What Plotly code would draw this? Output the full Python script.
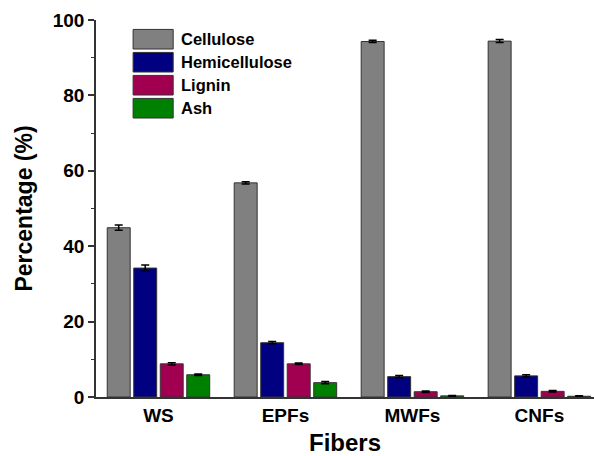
import plotly.graph_objects as go

categories = ["WS", "EPFs", "MWFs", "CNFs"]
series_names = ["Cellulose", "Hemicellulose", "Lignin", "Ash"]
cellulose = [44.9, 56.8, 94.3, 94.4]
hemicellulose = [34.2, 14.4, 5.4, 5.6]
lignin = [8.8, 8.8, 1.4, 1.5]
ash = [5.9, 3.8, 0.3, 0.2]
err_cellulose = [0.7, 0.3, 0.3, 0.4]
err_hemicellulose = [0.8, 0.3, 0.3, 0.3]
err_lignin = [0.3, 0.2, 0.2, 0.2]
err_ash = [0.2, 0.3, 0.1, 0.1]
colors = ["#808080", "#000080", "#A0004F", "#008000"]
y_ticks = [0, 20, 40, 60, 80, 100]

values = [cellulose, hemicellulose, lignin, ash]
errors = [err_cellulose, err_hemicellulose, err_lignin, err_ash]

FONT = "Liberation Sans, Arial, sans-serif"

fig = go.Figure()
xpos = list(range(len(categories)))
for name, vals, errs, col in zip(series_names, values, errors, colors):
    fig.add_trace(go.Bar(
        x=xpos, y=vals, name=name,
        marker=dict(color=col, line=dict(color="#333333", width=1)),
        error_y=dict(type="data", array=errs, color="black", thickness=1.5, width=4),
        showlegend=False,
    ))

# custom legend (large boxes like the original)
box_x0, box_x1 = 0.0745, 0.155
text_x = 0.166
row_h = 0.061
top = 0.975
for i, (name, col) in enumerate(zip(series_names, colors)):
    y1 = top - i * row_h
    y0 = y1 - 0.052
    fig.add_shape(type="rect", xref="paper", yref="paper",
                  x0=box_x0, x1=box_x1, y0=y0, y1=y1,
                  fillcolor=col, line=dict(color="#333333", width=1))
    fig.add_annotation(xref="paper", yref="paper", x=text_x, y=(y0 + y1) / 2,
                       text=name, showarrow=False, xanchor="left", yanchor="middle",
                       font=dict(family=FONT, size=16.5, color="black", weight="bold"))

fig.update_layout(
    width=594, height=456,
    margin=dict(l=96, r=0, t=20, b=59),
    paper_bgcolor="white", plot_bgcolor="white",
    barmode="group", bargap=0.165, bargroupgap=0.134,
    xaxis=dict(
        range=[-0.492, 3.43], tickmode="array", tickvals=xpos, ticktext=categories,
        ticks="", showline=True, linecolor="#333333", linewidth=1.5,
        showgrid=False, zeroline=False,
        tickfont=dict(family=FONT, size=19, color="black", weight="bold"),
        title=dict(text="Fibers", font=dict(family=FONT, size=24, color="black", weight="bold"), standoff=10),
    ),
    yaxis=dict(
        range=[0, 100], tickmode="array", tickvals=y_ticks,
        ticks="outside", ticklen=6, tickwidth=1.5, tickcolor="#333333",
        minor=dict(dtick=10, ticks="outside", ticklen=3, tickwidth=1.2, tickcolor="#333333"),
        showline=True, linecolor="#333333", linewidth=1.5,
        showgrid=False, zeroline=False,
        tickfont=dict(family=FONT, size=19, color="black", weight="bold"),
        title=dict(text="Percentage (%)", font=dict(family=FONT, size=23, color="black", weight="bold"), standoff=14),
    ),
)

fig.write_html("out.html")
